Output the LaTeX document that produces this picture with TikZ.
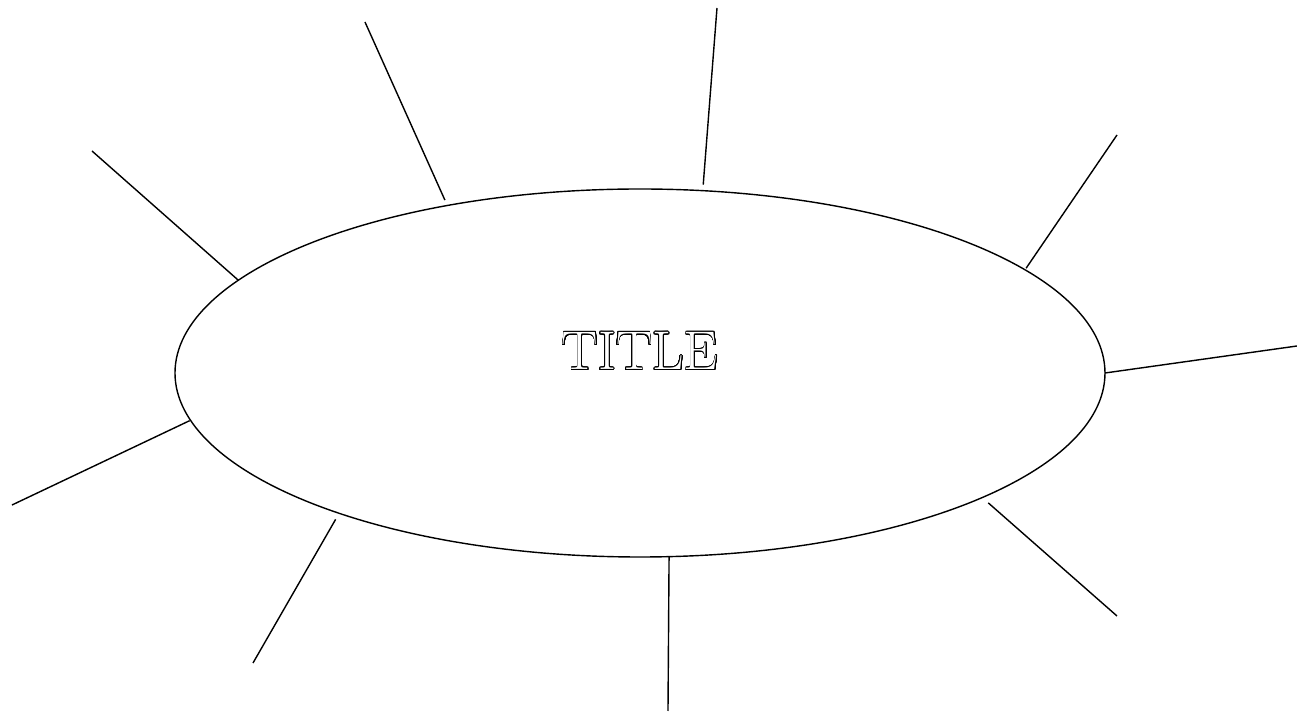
\documentclass[tikz,border=0pt]{standalone}
\usepackage{contour}
\usetikzlibrary{shapes.geometric}
\contourlength{0.45pt}
\contournumber{32}

\begin{document}
\begin{tikzpicture}[
        hubbox/.style ={draw, thick, ellipse, minimum width=18.6cm,
                        minimum height=7.36cm, inner sep=0pt, outer sep=0pt},
        spoke/.style  ={thick},
        hollow/.style ={font=\fontsize{31}{37}\selectfont},
    ]
    \useasboundingbox (-12.80,-6.78) rectangle (13.14,7.46);

    % ===================== Centre =====================
    \node[hubbox] (hub) at (0,0) {};
    \node[hollow] (title) at (0,0.43) {\contour{black}{\textcolor{white}{TITLE}}};

    % ===================== Spokes =====================
    \foreach \n / \a / \g / \x / \y in {1/139.0/0.12/-5.50/7.02, 2/71.7/0.12/1.54/7.30,
                                   3/15.6/0.04/9.54/4.76, 4/-0.3/0/13.14/0.54,
                                   5/-20.0/0.16/9.54/-4.86, 6/-81.35/0/0.56/-6.76,
                                   7/-155.3/0.14/-7.74/-5.80, 8/186.4/0.02/-12.56/-2.64,
                                   9/167.0/0/-10.96/4.44}{
        \coordinate (tip\n) at (\x,\y);
        \draw[spoke, shorten <=\g cm] (hub.\a) -- (tip\n);
    }
\end{tikzpicture}
\end{document}
